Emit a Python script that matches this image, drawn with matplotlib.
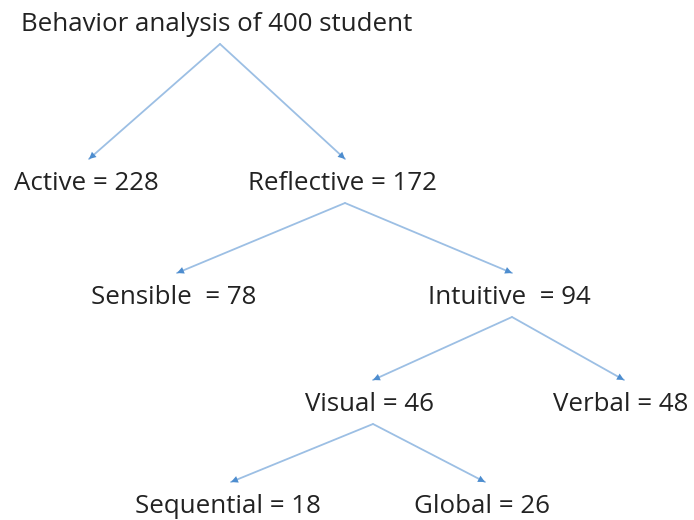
import matplotlib.pyplot as plt

# tree data: node names, counts, parent index
names = ['Behavior analysis of 400 student', 'Active', 'Reflective', 'Sensible ', 'Intuitive ',
         'Visual', 'Verbal', 'Sequential', 'Global']
counts = [None, 228, 172, 78, 94, 46, 48, 18, 26]
parents = [None, 0, 0, 2, 2, 4, 4, 5, 5]

# layout (pixel space, y down): arrow anchor x and text baseline
node_x = [220, 89, 345, 177, 512, 373, 624, 231, 485]
node_y = [31, 190, 190, 304, 304, 411, 411, 513, 513]

plt.rcParams['font.family'] = ['Open Sans', 'DejaVu Sans']

fig = plt.figure(figsize=(6.94, 5.2), dpi=100)
ax = fig.add_axes([0, 0, 1, 1])
ax.set_xlim(0, 694)
ax.set_ylim(520, 0)
ax.axis('off')

for i, name in enumerate(names):
    label = name if counts[i] is None else f'{name} = {counts[i]}'
    ax.text(node_x[i] - 3, node_y[i], label, ha='center', va='baseline',
            fontsize=18.6, color='#222222')

for i, p in enumerate(parents):
    if p is None:
        continue
    start = (node_x[p], node_y[p] + 13)
    end = (node_x[i], node_y[i] - 31)
    ax.plot([start[0], end[0]], [start[1], end[1]], color='#9cbfe4', lw=1.3,
            solid_capstyle='round')
    ax.annotate('', xy=end, xytext=start,
                arrowprops=dict(arrowstyle='-|>,head_length=0.5,head_width=0.25',
                                color='#4d8dcf', lw=0, shrinkA=0, shrinkB=0))

fig.savefig('out.png', dpi=100)
